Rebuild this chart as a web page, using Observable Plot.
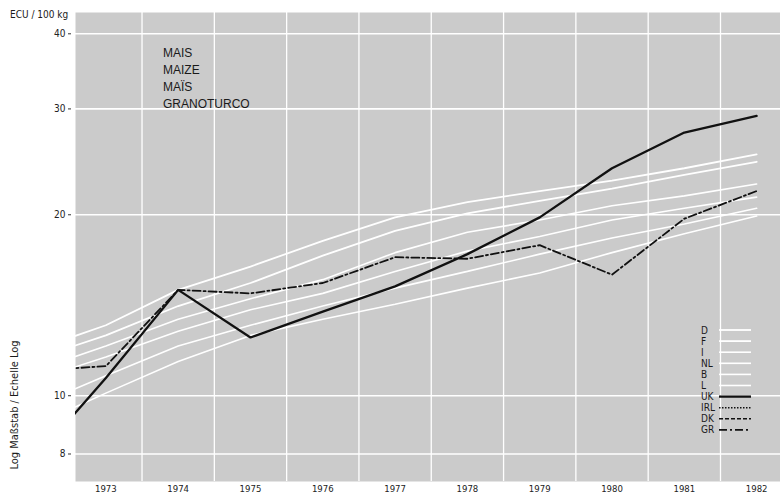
<!DOCTYPE html>
<html><head><meta charset="utf-8">
<script src="https://cdn.jsdelivr.net/npm/d3@7"></script>
<script src="https://cdn.jsdelivr.net/npm/@observablehq/plot@0.6"></script>
<style>
html,body{margin:0;padding:0;background:#fff;}
#chart{position:relative;width:780px;height:495px;overflow:hidden;}
</style></head><body><div id="chart"></div>
<script>
// ---- data (ECU / 100 kg) ----
const years = [1972, 1973, 1974, 1975, 1976, 1977, 1978, 1979, 1980, 1981, 1982];
const D  = [11.9, 13.1, 15.0, 16.4, 18.1, 19.8, 21.0, 21.9, 22.8, 23.9, 25.2];
const F  = [11.5, 12.6, 14.1, 15.4, 17.1, 18.8, 20.1, 21.1, 22.1, 23.3, 24.5];
const I  = [11.0, 12.1, 13.4, 14.5, 15.6, 17.3, 18.7, 19.6, 20.7, 21.5, 22.5];
const NL = [10.6, 11.6, 12.8, 13.9, 14.8, 16.1, 17.4, 18.4, 19.6, 20.5, 21.4];
const B  = [9.6, 10.8, 12.1, 13.1, 14.1, 15.1, 16.1, 17.2, 18.3, 19.3, 20.5];
const L  = [8.9, 10.1, 11.4, 12.6, 13.4, 14.2, 15.1, 16.0, 17.3, 18.6, 19.9];
const UK = [7.8, 10.7, 15.0, 12.5, 13.8, 15.2, 17.2, 19.8, 23.9, 27.4, 29.2];
const GR = [11.0, 11.2, 15.0, 14.8, 15.4, 17.0, 16.9, 17.8, 15.9, 19.7, 21.9];

const legendNames = ["D", "F", "I", "NL", "B", "L", "UK", "IRL", "DK", "GR"];
const yTicks = [8, 10, 20, 30, 40];
const xTicks = [1973, 1974, 1975, 1976, 1977, 1978, 1979, 1980, 1981, 1982];
const xGrid  = [1973.5, 1974.5, 1975.5, 1976.5, 1977.5, 1978.5, 1979.5, 1980.5, 1981.5];
const titleLines = ["MAIS", "MAIZE", "MAÏS", "GRANOTURCO"];
const unitLabel = "ECU / 100 kg";
const axisLabel = "Log Maßstab / Echelle Log";

// ---- styles ----
const styles = {
  D:  {stroke: "#ffffff", width: 1.8, dash: null},
  F:  {stroke: "#ffffff", width: 1.8, dash: null},
  I:  {stroke: "#ffffff", width: 1.6, dash: null},
  NL: {stroke: "#ffffff", width: 1.6, dash: null},
  B:  {stroke: "#ffffff", width: 1.6, dash: null},
  L:  {stroke: "#ffffff", width: 1.6, dash: null},
  UK: {stroke: "#111111", width: 2.3, dash: null},
  IRL:{stroke: "#111111", width: 1.6, dash: "1.5,1.5"},
  DK: {stroke: "#111111", width: 1.6, dash: "4,2"},
  GR: {stroke: "#111111", width: 1.8, dash: "8,3,2,3"}
};
const seriesData = {D, F, I, NL, B, L, GR, UK};
const drawOrder = ["L", "B", "NL", "I", "F", "D", "GR", "UK"];
const rows = drawOrder.flatMap(name => years.map((yr, i) => ({country: name, year: yr, value: seriesData[name][i]})));

const FONT = "'Liberation Sans Narrow', 'DejaVu Sans Condensed', 'Liberation Sans', sans-serif";

const chart = Plot.plot({
  width: 780, height: 495,
  marginTop: 12, marginBottom: 14, marginLeft: 75, marginRight: 0,
  style: {fontFamily: FONT, fontSize: "9.5px", color: "#222", background: "transparent"},
  x: {domain: [1972.58, 1982.33]},
  y: {type: "log", domain: [7.2, 43.4]},
  marks: [
    Plot.frame({fill: "#cbcbcb", stroke: "none"}),
    Plot.gridY(yTicks, {stroke: "#ffffff", strokeOpacity: 1, strokeWidth: 1.6}),
    Plot.gridX(xGrid, {stroke: "#ffffff", strokeOpacity: 1, strokeWidth: 1.3}),
    ...drawOrder.map(name => Plot.line(rows.filter(r => r.country === name), {
      x: "year", y: "value", stroke: styles[name].stroke, strokeWidth: styles[name].width,
      strokeDasharray: styles[name].dash, clip: true, strokeLinejoin: "miter"
    })),
    Plot.axisX(xTicks, {tickSize: 0, tickPadding: 4, tickFormat: d => String(d), fontSize: 9.5, label: null}),
    Plot.axisY(yTicks, {tickSize: 3, tickPadding: 3, dx: -4, tickFormat: d => String(d), fontSize: 10, label: null, stroke: "#333"})
  ]
});
document.getElementById("chart").appendChild(chart);

const svg = d3.select(chart);

// ---- texts ----
const tg = svg.append("g").attr("font-family", FONT).attr("fill", "#1a1a1a").attr("text-anchor", "start");
tg.append("text").attr("x", 10).attr("y", 18).attr("font-size", 10).text(unitLabel);
tg.append("text").attr("transform", "translate(18,405) rotate(-90)").attr("text-anchor", "middle")
  .attr("font-size", 11).text(axisLabel);
tg.selectAll("text.title").data(titleLines).join("text").attr("class", "title")
  .attr("x", 163).attr("y", (d, i) => 57 + i * 17)
  .attr("font-family", "'Liberation Sans', Arial, sans-serif").attr("font-size", 12).text(d => d);

// ---- legend ----
const lg = svg.append("g").attr("font-family", FONT).attr("font-size", 10).attr("fill", "#1a1a1a").attr("text-anchor", "start");
legendNames.forEach((name, i) => {
  const y = 330 + i * 11.1;
  lg.append("text").attr("x", 701).attr("y", y + 3.5).text(name);
  lg.append("line").attr("x1", 719).attr("x2", 751).attr("y1", y).attr("y2", y)
    .attr("stroke", styles[name].stroke).attr("stroke-width", styles[name].width)
    .attr("stroke-dasharray", styles[name].dash);
});
</script></body></html>
